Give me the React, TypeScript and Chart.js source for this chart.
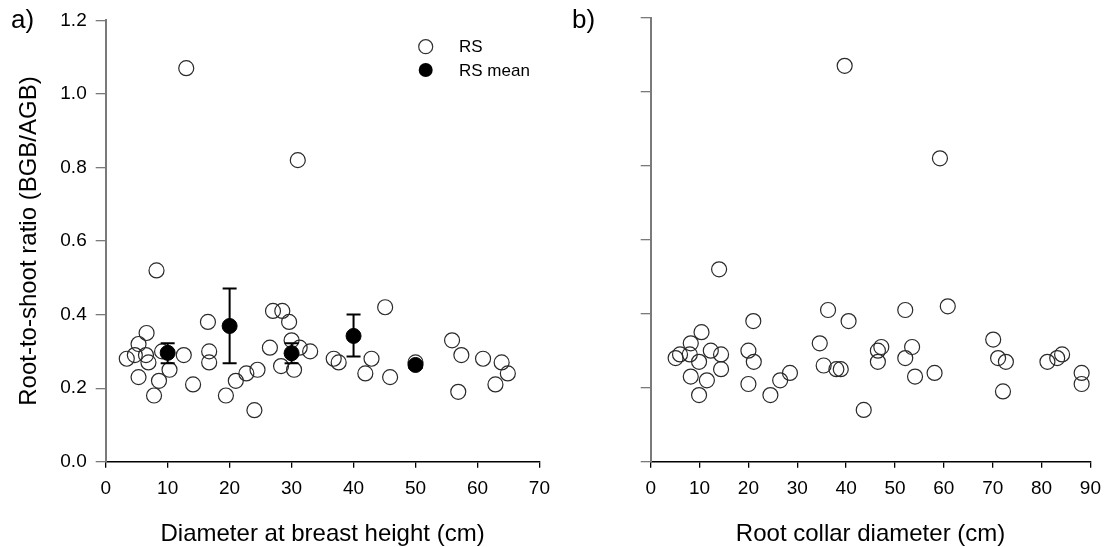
import React, { useEffect, useRef } from "react";
import { Chart, registerables } from "chart.js";

Chart.register(...registerables);

// ---------- data ----------
// Panel a: diameter at breast height (cm) vs root-to-shoot ratio
const dbhA = [3.4, 4.7, 5.3, 6.6, 6.5, 6.9, 5.3, 8.2, 8.6, 7.8, 9.1, 10.3, 12.6, 13.0, 14.1, 16.5, 16.7, 16.7, 19.4, 21.0, 22.7, 24.5, 24.0, 27.0, 28.5, 29.6, 26.5, 30.0, 31.3, 33.0, 28.3, 30.4, 31.0, 36.8, 37.6, 42.9, 41.9, 45.1, 45.9, 50.0, 55.9, 57.4, 60.9, 63.9, 64.9, 62.9, 56.9];
const rsA = [0.28, 0.29, 0.32, 0.35, 0.29, 0.27, 0.23, 0.52, 0.22, 0.18, 0.30, 0.25, 0.29, 1.07, 0.21, 0.38, 0.30, 0.27, 0.18, 0.22, 0.24, 0.25, 0.14, 0.41, 0.41, 0.38, 0.31, 0.33, 0.31, 0.30, 0.26, 0.25, 0.82, 0.28, 0.27, 0.28, 0.24, 0.42, 0.23, 0.27, 0.33, 0.29, 0.28, 0.27, 0.24, 0.21, 0.19];

// Class means with error bars
const meanDbh = [10, 20, 30, 40, 50];
const meanRs = [0.296, 0.369, 0.295, 0.342, 0.263];
const errLow = [0.268, 0.268, 0.268, 0.286, 0.255];
const errHigh = [0.322, 0.471, 0.322, 0.400, 0.271];

// Panel b: root collar diameter (cm) vs root-to-shoot ratio
const rcdB = [14.0, 10.4, 8.2, 6.0, 5.1, 8.0, 12.3, 14.4, 9.9, 14.4, 8.2, 11.5, 9.9, 21.0, 20.0, 21.1, 20.0, 24.5, 26.5, 28.5, 36.3, 40.5, 34.6, 35.4, 38.0, 38.9, 43.6, 52.1, 60.8, 46.5, 47.2, 46.5, 53.5, 52.1, 54.1, 58.1, 70.1, 71.1, 72.7, 72.1, 81.2, 83.2, 84.2, 88.2, 88.2, 39.7, 59.2];
const rsB = [0.52, 0.35, 0.32, 0.29, 0.28, 0.29, 0.30, 0.29, 0.27, 0.25, 0.23, 0.22, 0.18, 0.38, 0.30, 0.27, 0.21, 0.18, 0.22, 0.24, 0.41, 0.38, 0.32, 0.26, 0.25, 0.25, 0.14, 0.41, 0.42, 0.30, 0.31, 0.27, 0.31, 0.28, 0.23, 0.24, 0.33, 0.28, 0.27, 0.19, 0.27, 0.28, 0.29, 0.24, 0.21, 1.07, 0.82];

const yMin = 0;
const yMax = 1.2;
const yStep = 0.2;
const xMaxA = 70;
const xMaxB = 90;
const xStep = 10;

const legendLabels = ["RS", "RS mean"];
const yTitle = "Root-to-shoot ratio (BGB/AGB)";
const xTitleA = "Diameter at breast height (cm)";
const xTitleB = "Root collar diameter (cm)";

const FONT = "'Liberation Sans', Arial, Helvetica, sans-serif";

function makeScales(xMax: number, xTitle: string, yWidth: number, showYLabels: boolean) {
  return {
    x: {
      type: "linear",
      min: 0,
      max: xMax,
      afterFit: (s: any) => {
        s.height = 85.3;
      },
      ticks: {
        stepSize: xStep,
        color: "#000",
        padding: 10,
        font: { family: FONT, size: 19 },
        maxRotation: 0,
      },
      grid: {
        display: true,
        drawOnChartArea: false,
        drawTicks: true,
        tickLength: 6,
        color: "#000",
        lineWidth: 1.3,
      },
      border: { display: true, color: "#000", width: 1.5 },
      title: {
        display: true,
        text: xTitle,
        color: "#000",
        font: { family: FONT, size: 24, lineHeight: 1 },
        padding: { top: 0, bottom: 1 },
      },
    },
    y: {
      type: "linear",
      min: yMin,
      max: yMax,
      afterFit: (s: any) => {
        s.width = yWidth;
      },
      ticks: {
        stepSize: yStep,
        display: showYLabels,
        color: "#000",
        padding: 9,
        font: { family: FONT, size: 19 },
        callback: (v: any) => Number(v).toFixed(1),
      },
      grid: {
        display: true,
        drawOnChartArea: false,
        drawTicks: true,
        tickLength: 10,
        color: "#7a7a7a",
        lineWidth: 1.3,
      },
      border: { display: true, color: "#7a7a7a", width: 2 },
      title: {
        display: showYLabels,
        text: yTitle,
        color: "#000",
        font: { family: FONT, size: 24, lineHeight: 1.2 },
        padding: { top: 15, bottom: 0 },
      },
    },
  };
}

const errorBarPlugin = {
  id: "errorBars",
  beforeDatasetDraw(chart: any, args: any) {
    if (!chart.options.plugins.errorBars || !chart.options.plugins.errorBars.on) return;
    if (args.index !== 0) return;
    const xs = chart.scales.x;
    const ys = chart.scales.y;
    const ctx = chart.ctx;
    ctx.save();
    ctx.strokeStyle = "#000";
    ctx.lineWidth = 2;
    const cap = 7;
    for (let i = 0; i < meanDbh.length; i++) {
      const px = xs.getPixelForValue(meanDbh[i]);
      const top = ys.getPixelForValue(errHigh[i]);
      const bot = ys.getPixelForValue(errLow[i]);
      ctx.beginPath();
      ctx.moveTo(px, top);
      ctx.lineTo(px, bot);
      ctx.moveTo(px - cap, top);
      ctx.lineTo(px + cap, top);
      ctx.moveTo(px - cap, bot);
      ctx.lineTo(px + cap, bot);
      ctx.stroke();
    }
    ctx.restore();
  },
};

const decorPlugin = {
  id: "decor",
  afterDraw(chart: any) {
    const opts = chart.options.plugins.decor;
    if (!opts) return;
    const ctx = chart.ctx;
    ctx.save();
    ctx.fillStyle = "#000";
    ctx.textBaseline = "middle";
    ctx.textAlign = "left";
    ctx.font = `26px ${FONT}`;
    ctx.fillText(opts.panel, opts.panelX, 21);
    if (opts.legend) {
      const lx = 425.7;
      const ly = [46.7, 70];
      ctx.lineWidth = 1.2;
      ctx.strokeStyle = "#333";
      ctx.beginPath();
      ctx.arc(lx, ly[0], 7, 0, Math.PI * 2);
      ctx.stroke();
      ctx.beginPath();
      ctx.arc(lx, ly[1], 7, 0, Math.PI * 2);
      ctx.fillStyle = "#000";
      ctx.fill();
      ctx.font = `17px ${FONT}`;
      ctx.fillText(legendLabels[0], 459, ly[0] + 1);
      ctx.fillText(legendLabels[1], 459, ly[1] + 1);
    }
    ctx.restore();
  },
};

const openPoint = {
  pointStyle: "circle",
  pointRadius: 7.5,
  pointBorderWidth: 1.2,
  pointBorderColor: "#2a2a2a",
  pointBackgroundColor: "rgba(0,0,0,0)",
  showLine: false,
};

export default function App() {
  const refA = useRef<HTMLCanvasElement | null>(null);
  const refB = useRef<HTMLCanvasElement | null>(null);

  useEffect(() => {
    const chartA = new Chart(refA.current as HTMLCanvasElement, {
      type: "scatter",
      data: {
        datasets: [
          {
            label: legendLabels[1],
            data: meanDbh.map((x, i) => ({ x, y: meanRs[i] })),
            pointStyle: "circle",
            pointRadius: 7.5,
            pointBorderWidth: 1,
            pointBorderColor: "#000",
            pointBackgroundColor: "#000",
            showLine: false,
          },
          {
            label: legendLabels[0],
            data: dbhA.map((x, i) => ({ x, y: rsA[i] })),
            ...openPoint,
          },
        ],
      } as any,
      options: {
        responsive: false,
        animation: false,
        events: [],
        layout: { padding: { top: 17.7, right: 12, left: 0, bottom: 0 } },
        scales: makeScales(xMaxA, xTitleA, 105.7, true) as any,
        plugins: {
          legend: { display: false },
          tooltip: { enabled: false },
          errorBars: { on: true },
          decor: { panel: "a)", panelX: 11, legend: true },
        } as any,
      },
      plugins: [errorBarPlugin, decorPlugin],
    });

    const chartB = new Chart(refB.current as HTMLCanvasElement, {
      type: "scatter",
      data: {
        datasets: [
          {
            label: legendLabels[0],
            data: rcdB.map((x, i) => ({ x, y: rsB[i] })),
            ...openPoint,
          },
        ],
      } as any,
      options: {
        responsive: false,
        animation: false,
        events: [],
        layout: { padding: { top: 17.7, right: 20, left: 0, bottom: 0 } },
        scales: makeScales(xMaxB, xTitleB, 90.7, false) as any,
        plugins: {
          legend: { display: false },
          tooltip: { enabled: false },
          decor: { panel: "b)", panelX: 12, legend: false },
        } as any,
      },
      plugins: [decorPlugin],
    });

    return () => {
      chartA.destroy();
      chartB.destroy();
    };
  }, []);

  return (
    <div
      style={{
        position: "fixed",
        left: 0,
        top: 0,
        width: 1111,
        height: 547,
        background: "#fff",
      }}
    >
      <canvas
        ref={refA}
        width={560}
        height={547}
        style={{ position: "absolute", left: 0, top: 0, width: 560, height: 547 }}
      />
      <canvas
        ref={refB}
        width={551}
        height={547}
        style={{ position: "absolute", left: 560, top: 0, width: 551, height: 547 }}
      />
    </div>
  );
}
